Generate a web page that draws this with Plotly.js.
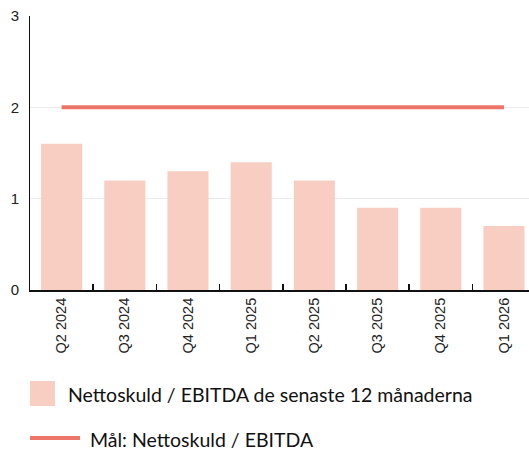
<!DOCTYPE html>
<html><head><meta charset="utf-8">
<script src="https://cdn.plot.ly/plotly-3.0.1.min.js"></script>
<style>html,body{margin:0;padding:0;background:#fff}#c{width:529px;height:450px}</style>
</head><body><div id="c"></div>
<script>
var categories = ["Q2 2024","Q3 2024","Q4 2024","Q1 2025","Q2 2025","Q3 2025","Q4 2025","Q1 2026"];
var ratioValues = [1.6, 1.2, 1.3, 1.4, 1.2, 0.9, 0.9, 0.7];
var targetValues = [2, 2, 2, 2, 2, 2, 2, 2];
var yTicks = [0, 1, 2, 3];
var barName = "Nettoskuld / EBITDA de senaste 12 månaderna";
var lineName = "Mål: Nettoskuld / EBITDA";

var barColor = "#F8CEC3", lineColor = "#EC7468";

var data = [
  {type:"bar", x:categories, y:ratioValues, name:barName, marker:{color:barColor}, width:0.65, hoverinfo:"skip"},
  {type:"scatter", mode:"lines", x:categories, y:targetValues, name:lineName, line:{color:lineColor, width:4}, hoverinfo:"skip"}
];

var layout = {
  width:529, height:450,
  margin:{l:30, r:0, t:16, b:160},
  paper_bgcolor:"#fff", plot_bgcolor:"#fff",
  showlegend:false,
  font:{family:"Liberation Sans, Arial, sans-serif", color:"#222"},
  xaxis:{
    type:"category", range:[-0.5, 7.396], fixedrange:true,
    showline:true, linecolor:"#111", linewidth:2,
    ticks:"inside", tickson:"boundaries", ticklen:6, tickwidth:1.5, tickcolor:"#111",
    tickangle:-90, tickfont:{size:14.5, color:"#222"},
    showgrid:false, zeroline:false
  },
  yaxis:{
    range:[0,3], tickvals:yTicks, fixedrange:true,
    showline:true, linecolor:"#111", linewidth:1,
    ticks:"", ticklabelstandoff:7, tickfont:{size:15, color:"#222"},
    showgrid:true, gridcolor:"#ebebeb", gridwidth:1, zeroline:false
  },
  shapes:[
    {type:"rect", xref:"paper", yref:"paper", x0:0, x1:25/499, y0:-(381-290)/274, y1:-(406-290)/274, fillcolor:barColor, line:{width:0}},
    {type:"line", xref:"paper", yref:"paper", x0:0, x1:50/499, y0:-(438-290)/274, y1:-(438-290)/274, line:{color:lineColor, width:4}}
  ],
  annotations:[
    {xref:"paper", yref:"paper", x:36/499, y:-(394-290)/274, xanchor:"left", yanchor:"middle", text:barName, showarrow:false, font:{family:"Lato, sans-serif", size:19.5, color:"#111"}},
    {xref:"paper", yref:"paper", x:58/499, y:-(439-290)/274, xanchor:"left", yanchor:"middle", text:lineName, showarrow:false, font:{family:"Lato, sans-serif", size:19.5, color:"#111"}}
  ]
};
Plotly.newPlot("c", data, layout, {displayModeBar:false, staticPlot:true});
</script></body></html>
